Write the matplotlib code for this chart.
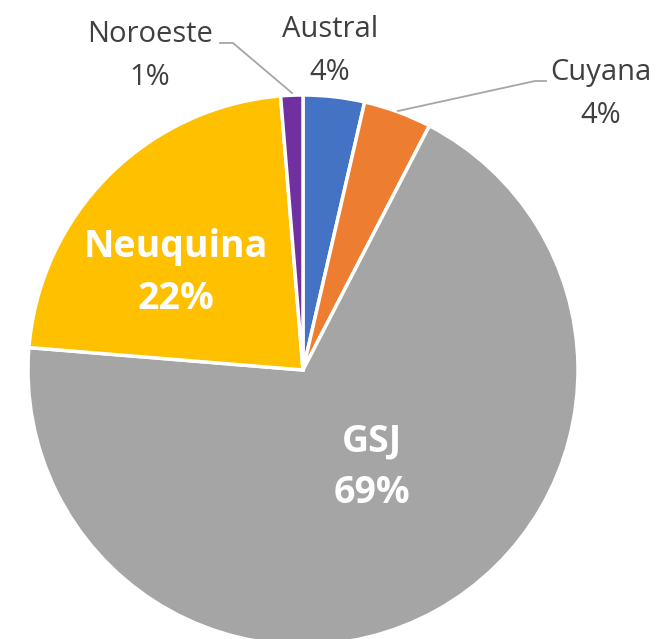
import matplotlib.pyplot as plt

# pie data (clockwise from the top)
basins = ['Austral', 'Cuyana', 'GSJ', 'Neuquina', 'Noroeste']
shares = [3.6, 4.0, 68.7, 22.4, 1.3]
colors = ['#4472C4', '#ED7D31', '#A5A5A5', '#FFC000', '#7030A0']

W, H = 657, 639
fig = plt.figure(figsize=(W / 100, H / 100), dpi=100)
ax = fig.add_axes([0, 0, 1, 1])

cx, cy, r = 303, H - 370, 275
ax.pie(shares, colors=colors, startangle=90, counterclock=False,
       center=(cx, cy), radius=r, frame=True,
       wedgeprops=dict(edgecolor='white', linewidth=2.5))
ax.set_xlim(0, W)
ax.set_ylim(0, H)
ax.set_aspect('equal')
ax.axis('off')

font = 'Open Sans'
gray = '#404040'

def lbl(i):
    return f'{basins[i]}\n{round(shares[i]):.0f}%'

# outside labels
ax.text(330, H - 51, lbl(0), ha='center', va='center', fontsize=21,
        color=gray, family=font, linespacing=1.6)
ax.text(601, H - 94, lbl(1), ha='center', va='center', fontsize=21,
        color=gray, family=font, linespacing=1.6)
ax.text(150, H - 56, lbl(4), ha='center', va='center', fontsize=21,
        color=gray, family=font, linespacing=1.6)

# inside labels
ax.text(176, H - 273, lbl(3), ha='center', va='center', fontsize=27,
        color='white', family=font, weight='bold', linespacing=1.45)
ax.text(372, H - 467, lbl(2), ha='center', va='center', fontsize=27,
        color='white', family=font, weight='bold', linespacing=1.45)

# leader lines
ax.plot([220, 233, 292], [H - 43, H - 43, H - 93], color='#A6A6A6', lw=1.3)
ax.plot([546, 535, 398], [H - 81, H - 81, H - 111], color='#A6A6A6', lw=1.3)

fig.savefig('out.png', dpi=100)
